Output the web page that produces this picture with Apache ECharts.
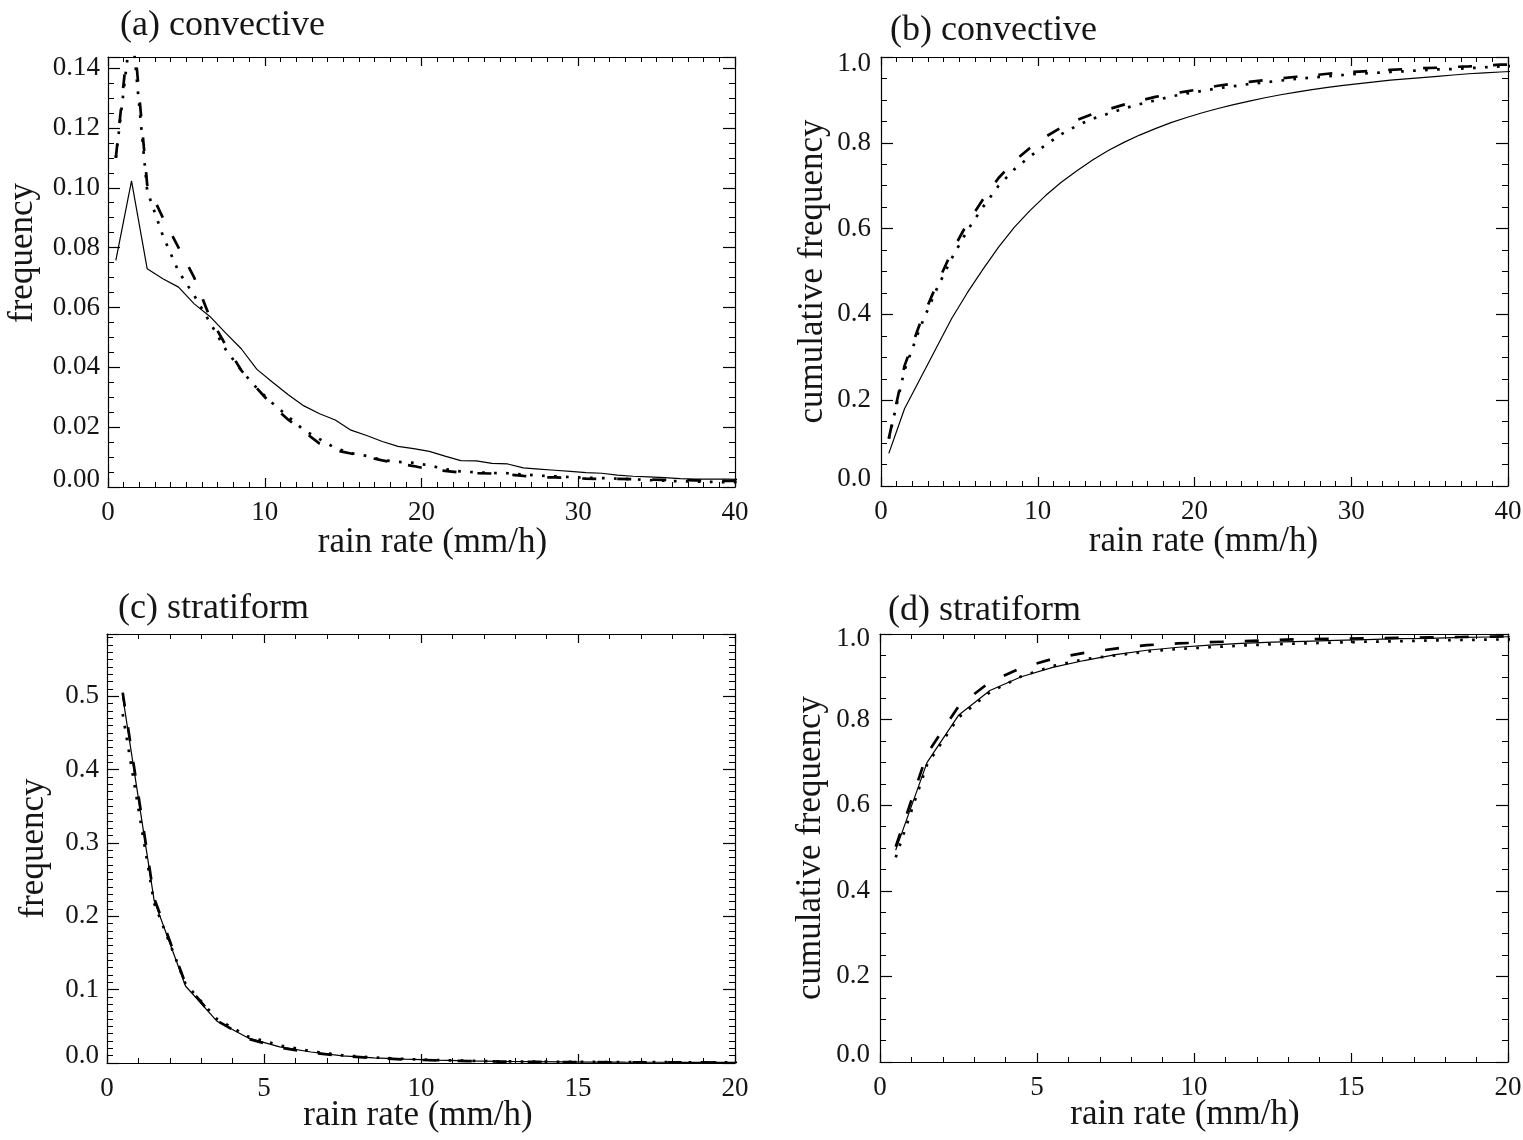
<!DOCTYPE html>
<html><head><meta charset="utf-8">
<script src="https://cdn.jsdelivr.net/npm/echarts@6/dist/echarts.min.js"></script>
<style>html,body{margin:0;padding:0;background:#fff}#c{width:1523px;height:1140px}</style>
</head><body><div id="c"></div>
<script>
// ---- rain-rate bin centres (mm/h); the last bin lies just past the axis end and is clipped ----
const rateConv = [0.5,1.5,2.5,3.5,4.5,5.5,6.5,7.5,8.5,9.5,10.5,11.5,12.5,13.5,14.5,15.5,16.5,17.5,18.5,19.5,
  20.5,21.5,22.5,23.5,24.5,25.5,26.5,27.5,28.5,29.5,30.5,31.5,32.5,33.5,34.5,35.5,36.5,37.5,38.5,39.5,40.5];
const rateStrat = [0.5,1.5,2.5,3.5,4.5,5.5,6.5,7.5,8.5,9.5,10.5,11.5,12.5,13.5,14.5,15.5,16.5,17.5,18.5,19.5,20.5];

// ---- (a) convective frequency ----
const freqConvSolid = [0.0757,0.1023,0.0729,0.0696,0.0668,0.0612,0.0570,0.0515,0.0462,0.0393,0.0350,0.0308,0.0271,0.0245,0.0224,0.0190,0.0172,0.0152,0.0136,0.0128,
  0.0119,0.0103,0.0088,0.0087,0.0079,0.0077,0.0064,0.0060,0.0056,0.0052,0.0048,0.0046,0.0040,0.0036,0.0034,0.0031,0.0028,0.0026,0.0026,0.0026,0.0025];
const freqConvDashed = [0.110,0.160,0.101,0.090,0.080,0.070,0.0567,0.0475,0.0390,0.0330,0.0272,0.0225,0.0185,0.0145,0.0123,0.0112,0.0100,0.0089,0.0079,0.0070,
  0.0059,0.0054,0.0048,0.0046,0.0045,0.0042,0.0037,0.0033,0.0032,0.0030,0.0028,0.0027,0.0027,0.0026,0.0025,0.0024,0.0023,0.0022,0.0021,0.0020,0.0020];
const freqConvDotted = [0.110,0.155,0.099,0.084,0.072,0.064,0.055,0.046,0.039,0.033,0.028,0.0235,0.019,0.016,0.013,0.0113,0.0104,0.0090,0.0084,0.0081,
  0.0072,0.0060,0.0052,0.0049,0.0047,0.0046,0.0042,0.0038,0.0036,0.0033,0.0031,0.0030,0.0028,0.0026,0.0023,0.0021,0.0019,0.0018,0.0017,0.0016,0.0016];

// ---- (b) convective cumulative frequency ----
const cumConvSolid = [0.076,0.180,0.250,0.320,0.390,0.450,0.505,0.557,0.603,0.642,0.677,0.708,0.735,0.760,0.782,0.801,0.818,0.833,0.847,0.859,
  0.870,0.880,0.889,0.897,0.905,0.912,0.918,0.924,0.929,0.934,0.938,0.942,0.946,0.949,0.952,0.955,0.958,0.961,0.963,0.965,0.967];
const cumConvDashed = [0.111,0.280,0.380,0.465,0.545,0.612,0.668,0.718,0.757,0.788,0.814,0.836,0.853,0.867,0.878,0.889,0.898,0.907,0.914,0.920,
  0.926,0.933,0.938,0.942,0.946,0.950,0.954,0.957,0.961,0.964,0.966,0.968,0.970,0.972,0.974,0.975,0.977,0.978,0.980,0.982,0.983];
const cumConvDotted = [0.110,0.270,0.370,0.455,0.530,0.595,0.650,0.700,0.738,0.768,0.795,0.820,0.840,0.856,0.868,0.880,0.890,0.899,0.908,0.915,
  0.921,0.927,0.932,0.937,0.941,0.945,0.949,0.952,0.955,0.958,0.961,0.963,0.965,0.967,0.969,0.971,0.972,0.974,0.976,0.978,0.979];

// ---- (c) stratiform frequency ----
const freqStratSolid = [0.500,0.222,0.105,0.057,0.034,0.022,0.015,0.0098,0.0070,0.0052,0.0038,0.0028,0.0021,0.0018,0.0015,0.0013,0.0011,0.0010,0.0009,0.0008,0.0007];
const freqStratDashed = [0.505,0.225,0.108,0.058,0.033,0.021,0.014,0.0095,0.0068,0.0048,0.0035,0.0026,0.0020,0.0016,0.0013,0.0011,0.0010,0.0009,0.0008,0.0007,0.0006];
const freqStratDotted = [0.476,0.218,0.108,0.060,0.036,0.024,0.016,0.0105,0.0075,0.0055,0.0040,0.0030,0.0023,0.0019,0.0016,0.0014,0.0012,0.0011,0.0010,0.0009,0.0008];

// ---- (d) stratiform cumulative frequency ----
const cumStratSolid = [0.495,0.700,0.810,0.868,0.900,0.922,0.938,0.952,0.962,0.969,0.974,0.978,0.981,0.983,0.985,0.987,0.989,0.990,0.992,0.993,0.994];
const cumStratDashed = [0.503,0.720,0.831,0.888,0.921,0.942,0.956,0.966,0.974,0.978,0.981,0.983,0.986,0.988,0.989,0.990,0.991,0.992,0.993,0.994,0.995];
const cumStratDotted = [0.478,0.695,0.805,0.864,0.901,0.925,0.941,0.950,0.959,0.965,0.969,0.973,0.976,0.978,0.980,0.982,0.983,0.985,0.986,0.987,0.988];

// ---- texts ----
const panelTitles = ['(a) convective','(b) convective','(c) stratiform','(d) stratiform'];
const xName = 'rain rate (mm/h)';
const yNames = ['frequency','cumulative frequency','frequency','cumulative frequency'];

const FONT = 'Liberation Serif, Times New Roman, serif';
const INK = '#151515';

const panels = [
  {grid:{left:108,top:57,width:627,height:430}, xMax:40, xInt:10, xMinor:10, yMax:0.1437, yInt:0.02, yMinor:4, dec:2,
   xs:rateConv, ys:[freqConvSolid,freqConvDashed,freqConvDotted], yGap:68, yPad:[0,0,0,38], xGap:38, xPad:[0,0,0,22], yLabMargin:8, hiShift:0},
  {grid:{left:881,top:57,width:627,height:429}, xMax:40, xInt:10, xMinor:10, yMax:1.0, yInt:0.2, yMinor:4, dec:1,
   xs:rateConv, ys:[cumConvSolid,cumConvDashed,cumConvDotted], yGap:51, yPad:[0,0,0,0], xGap:38, xPad:[0,0,0,18], yLabMargin:10, hiShift:13},
  {grid:{left:107,top:634,width:628,height:429}, xMax:20, xInt:5, xMinor:5, yMax:0.585, yInt:0.1, yMinor:10, dec:1,
   xs:rateStrat, ys:[freqStratSolid,freqStratDashed,freqStratDotted], yGap:56, yPad:[0,0,0,0], xGap:35, xPad:[0,6,0,0], yLabMargin:8, hiShift:0},
  {grid:{left:880,top:634,width:628,height:428}, xMax:20, xInt:5, xMinor:5, yMax:1.0, yInt:0.2, yMinor:4, dec:1,
   xs:rateStrat, ys:[cumStratSolid,cumStratDashed,cumStratDotted], yGap:52, yPad:[0,0,0,0], xGap:35, xPad:[0,18,0,0], yLabMargin:10, hiShift:10},
];
const titlePos = [[120,8],[890,13],[118,591],[888,593]];

const lineStyles = [
  {color:'#000', width:1.2, type:'solid'},
  {color:'#000', width:2.7, type:[14,21], cap:'butt'},
  {color:'#000', width:2.7, type:[2.7,9.3], cap:'butt'}
];

const grids = [], xAxes = [], yAxes = [], series = [], titles = [];
const axisLine = {show:true, onZero:false, lineStyle:{color:'#000', width:1.2}};

panels.forEach((p, i) => {
  grids.push(Object.assign({containLabel:false, outerBoundsMode:'none'}, p.grid));
  const xBase = {type:'value', gridIndex:i, min:0, max:p.xMax, interval:p.xInt,
    axisLine, splitLine:{show:false},
    axisTick:{show:true, inside:true, length:9, lineStyle:{color:'#000', width:1.2}},
    minorTick:{show:true, splitNumber:p.xMinor, length:5, lineStyle:{color:'#000', width:1}}};
  xAxes.push(Object.assign({}, xBase, {position:'bottom',
    axisLabel:{show:true, margin:12, fontFamily:FONT, fontSize:27, color:INK},
    name:xName, nameLocation:'middle', nameGap:p.xGap, nameMoveOverlap:false,
    nameTextStyle:{fontFamily:FONT, fontSize:35, color:INK, padding:p.xPad}}));
  xAxes.push(Object.assign({}, xBase, {position:'top', axisLabel:{show:false}}));

  const yBase = {type:'value', gridIndex:i, min:0, max:p.yMax, interval:p.yInt,
    axisLine, splitLine:{show:false},
    axisTick:{show:true, inside:true, length:12, lineStyle:{color:'#000', width:1.2}},
    minorTick:{show:true, splitNumber:p.yMinor, length:6, lineStyle:{color:'#000', width:1}}};
  const inc = p.yInt;
  yAxes.push(Object.assign({}, yBase, {position:'left',
    axisLabel:{show:true, margin:p.yLabMargin, fontFamily:FONT, fontSize:27, color:INK,
      formatter: v => {
        const k = Math.round(v / inc);
        if (Math.abs(v - k*inc) > 1e-6) return '';
        const t = (k*inc).toFixed(p.dec);
        if (k === 0) return '{lo|' + t + '}';
        if (p.hiShift && Math.abs(v - p.yMax) < 1e-6) return '{hi|' + t + '}';
        return t;
      },
      rich:{
        lo:{fontFamily:FONT, fontSize:27, color:INK, padding:[0,0,15,0]},
        hi:{fontFamily:FONT, fontSize:27, color:INK, padding:[p.hiShift,0,0,0]}
      }},
    name:yNames[i], nameLocation:'middle', nameGap:p.yGap, nameMoveOverlap:false,
    nameTextStyle:{fontFamily:FONT, fontSize:35, color:INK, padding:p.yPad}}));
  yAxes.push(Object.assign({}, yBase, {position:'right', axisLabel:{show:false}}));

  p.ys.forEach((ys, j) => {
    series.push({type:'line', xAxisIndex:2*i, yAxisIndex:2*i, symbol:'none', clip:true,
      silent:true, animation:false,
      lineStyle:lineStyles[j],
      data:p.xs.map((x, k) => [x, ys[k]])});
  });

  titles.push({text:panelTitles[i], left:titlePos[i][0], top:titlePos[i][1], padding:0,
    textStyle:{fontFamily:FONT, fontSize:36, fontWeight:'normal', color:INK}});
});

const chart = echarts.init(document.getElementById('c'), null, {renderer:'canvas'});
chart.setOption({
  backgroundColor:'#fff',
  animation:false,
  title:titles,
  grid:grids,
  xAxis:xAxes,
  yAxis:yAxes,
  series
});
</script></body></html>
